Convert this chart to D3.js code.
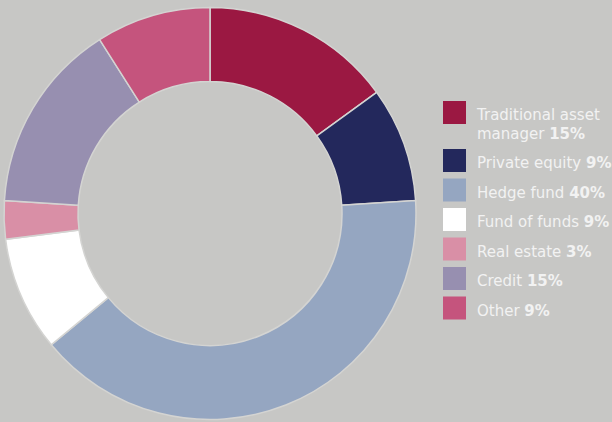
<!DOCTYPE html>
<html>
<head>
<meta charset="utf-8">
<script src="https://cdn.jsdelivr.net/npm/d3@7"></script>
<style>
  html, body { margin: 0; padding: 0; background: #c7c7c5; }
  svg { display: block; }
</style>
</head>
<body>
<svg width="612" height="422"></svg>
<script>
var categories = ["Traditional asset manager", "Private equity", "Hedge fund", "Fund of funds", "Real estate", "Credit", "Other"];
var values = [15, 9, 40, 9, 3, 15, 9];
var colors = ["#9b1842", "#23285c", "#95a6c1", "#ffffff", "#d98fa6", "#978fb0", "#c5547d"];

var svg = d3.select("svg"),
    cx = 210, cy = 213.5,
    outer = 206, inner = 132;

var pie = d3.pie().sort(null).value(function(d) { return d.value; });
var arc = d3.arc().innerRadius(inner).outerRadius(outer);

var data = categories.map(function(c, i) {
    return {name: c, value: values[i], color: colors[i]};
});

var g = svg.append("g").attr("transform", "translate(" + cx + "," + cy + ")");
g.selectAll("path")
    .data(pie(data))
    .enter().append("path")
    .attr("d", arc)
    .attr("fill", function(d) { return d.data.color; })
    .attr("stroke", "#d4d4d2")
    .attr("stroke-width", 1.5);

// legend
var legend = svg.append("g").attr("transform", "translate(443,101)"),
    step = 29.5, lineH = 18.5, maxW = 128,
    yOff = 0;

data.forEach(function(d) {
    var item = legend.append("g").attr("transform", "translate(0," + yOff + ")");
    item.append("rect")
        .attr("width", 23).attr("height", 23)
        .attr("fill", d.color);
    var text = item.append("text")
        .attr("x", 34).attr("y", 19)
        .attr("font-family", "'DejaVu Sans', sans-serif")
        .attr("font-size", 15)
        .attr("fill", "#f2f2f2");

    // word wrap on the name only, the percentage goes on the last line
    var words = d.name.split(" "), lines = [[]];
    var probe = text.append("tspan");
    words.forEach(function(w) {
        var cur = lines[lines.length - 1].concat([w]);
        probe.text(cur.join(" "));
        if (probe.node().getComputedTextLength() > maxW && lines[lines.length - 1].length) {
            lines.push([w]);
        } else {
            lines[lines.length - 1] = cur;
        }
    });
    probe.remove();

    lines.forEach(function(l, k) {
        var last = k === lines.length - 1;
        text.append("tspan").attr("x", 34).attr("dy", k ? lineH : 0)
            .text(l.join(" ") + (last ? " " : ""));
        if (last) {
            text.append("tspan").attr("font-weight", "bold").text(d.value + "%");
        }
    });
    yOff += step + (lines.length - 1) * lineH;
});
</script>
</body>
</html>
